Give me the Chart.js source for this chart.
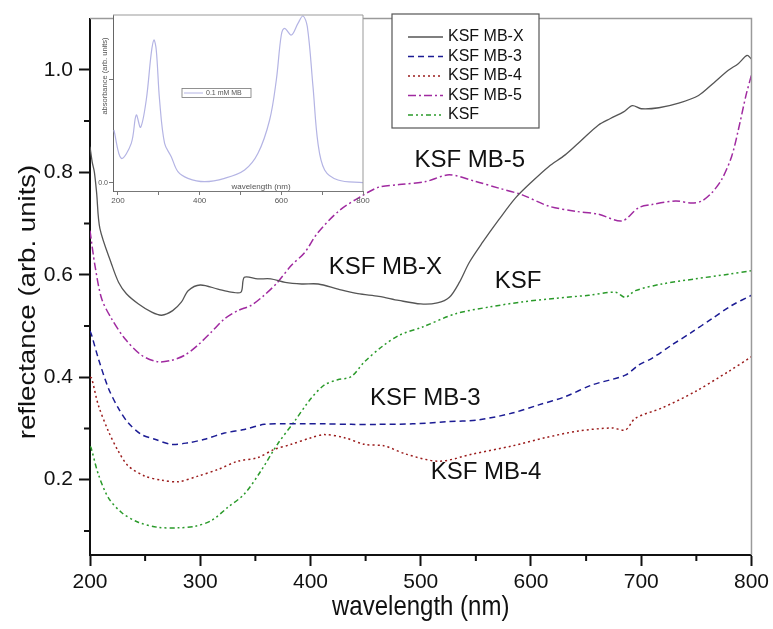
<!DOCTYPE html>
<html>
<head>
<meta charset="utf-8">
<script src="https://cdn.jsdelivr.net/npm/chart.js@4.4.1/dist/chart.umd.min.js"></script>
<style>
html, body { margin: 0; padding: 0; background: #fff; }
#wrap { position: relative; width: 773px; height: 629px; }
#mainChart { position: absolute; left: 0; top: 0; }
#insetChart { position: absolute; left: 90px; top: 0; }
</style>
</head>
<body>
<div id="wrap">
<canvas id="mainChart" width="773" height="629"></canvas>
<canvas id="insetChart" width="290" height="215"></canvas>
</div>
<script>
// ---------- DATA ----------
const mbxWl  = [200, 202, 204, 206, 209, 220, 226, 233, 244, 256, 265, 275, 283, 289, 300, 316, 328, 337, 340, 352, 364, 377, 392, 407, 425, 443, 462, 480, 500, 515, 526, 535, 544, 556, 571, 586, 601, 616, 631, 646, 661, 672, 684, 692, 700, 716, 734, 752, 766, 779, 788, 796, 800];
const mbxVal = [0.85, 0.82, 0.80, 0.76, 0.69, 0.618, 0.585, 0.563, 0.543, 0.527, 0.521, 0.530, 0.547, 0.569, 0.580, 0.572, 0.566, 0.566, 0.595, 0.592, 0.592, 0.585, 0.582, 0.582, 0.572, 0.563, 0.558, 0.550, 0.543, 0.545, 0.556, 0.585, 0.624, 0.663, 0.708, 0.750, 0.782, 0.811, 0.834, 0.863, 0.892, 0.905, 0.918, 0.930, 0.924, 0.926, 0.935, 0.950, 0.975, 0.999, 1.012, 1.028, 1.021];

const mb3Wl  = [200, 201.5, 207.5, 216.6, 225.6, 234.6, 246.7, 258.8, 273.9, 289, 304, 322, 340, 358, 376.5, 394.6, 412.7, 436.8, 462, 492.6, 522.8, 553, 583, 607, 631, 655.5, 685.6, 697.7, 709.7, 727.8, 745.9, 764, 782, 800];
const mb3Val = [0.49, 0.482, 0.437, 0.379, 0.340, 0.311, 0.288, 0.279, 0.269, 0.272, 0.279, 0.291, 0.298, 0.308, 0.309, 0.309, 0.309, 0.308, 0.308, 0.309, 0.313, 0.317, 0.330, 0.346, 0.362, 0.385, 0.404, 0.424, 0.437, 0.463, 0.488, 0.514, 0.540, 0.560];

const mb4Wl  = [200, 201.5, 207.5, 216.6, 225.6, 234.6, 249.8, 265, 280, 298, 316, 334, 352, 367, 382.5, 400.6, 412.7, 430.8, 448.9, 467, 486.5, 516.7, 546.8, 583, 613, 643, 673.5, 685.6, 694.7, 718.8, 749, 779, 800];
const mb4Val = [0.40, 0.398, 0.346, 0.295, 0.256, 0.227, 0.207, 0.199, 0.196, 0.207, 0.220, 0.236, 0.243, 0.259, 0.269, 0.282, 0.288, 0.282, 0.269, 0.266, 0.250, 0.236, 0.250, 0.266, 0.282, 0.295, 0.301, 0.297, 0.320, 0.340, 0.372, 0.411, 0.440];

const mb5Wl  = [200, 204.5, 210.6, 219.6, 231.7, 246.7, 261.8, 273.9, 286, 298, 310, 322, 334, 346, 358, 370, 382.5, 394.6, 406.6, 426, 445, 462, 480.5, 504.6, 525.8, 550, 571, 592, 616, 640, 661.5, 682.6, 697.7, 709.7, 731, 746, 755, 764, 773, 782, 788, 795, 800];
const mb5Val = [0.686, 0.618, 0.553, 0.514, 0.475, 0.443, 0.430, 0.433, 0.443, 0.463, 0.488, 0.514, 0.530, 0.540, 0.560, 0.585, 0.618, 0.643, 0.682, 0.725, 0.752, 0.771, 0.776, 0.782, 0.795, 0.782, 0.769, 0.756, 0.734, 0.724, 0.718, 0.705, 0.731, 0.737, 0.744, 0.740, 0.744, 0.760, 0.786, 0.831, 0.882, 0.950, 0.990];

const ksfWl  = [200, 201, 207.5, 216.6, 228.6, 243.7, 261.8, 280, 295, 310, 325, 340, 355, 370, 385.5, 400.6, 412.7, 424.7, 436.8, 448.9, 465, 480.5, 501.6, 531.8, 562, 592, 622, 652.5, 676.6, 685.6, 694.7, 718.8, 749, 779, 800];
const ksfVal = [0.265, 0.262, 0.211, 0.165, 0.136, 0.117, 0.107, 0.106, 0.109, 0.120, 0.146, 0.172, 0.217, 0.269, 0.314, 0.359, 0.385, 0.395, 0.401, 0.430, 0.460, 0.482, 0.498, 0.524, 0.537, 0.547, 0.554, 0.560, 0.566, 0.556, 0.569, 0.582, 0.592, 0.601, 0.608];

// inset: 0.1 mM MB absorbance
const mbAbsWl  = [190.2, 208.2, 232.7, 244.9, 255.5, 269.4, 281.6, 288.2, 293.9, 302, 314.3, 330.6, 346.9, 371.4, 412.2, 461.2, 510.2, 542.9, 571.4, 587.8, 600, 608.2, 624.5, 640.8, 653.1, 663.7, 677.6, 689.8, 706.1, 738.8, 800];
const mbAbsVal = [0.316, 0.146, 0.236, 0.406, 0.332, 0.496, 0.776, 0.856, 0.796, 0.496, 0.236, 0.156, 0.066, 0.026, 0.006, 0.026, 0.076, 0.176, 0.376, 0.616, 0.886, 0.926, 0.886, 0.956, 1.0, 0.936, 0.576, 0.236, 0.076, 0.016, 0.0];

const seriesNames = ['KSF MB-X', 'KSF MB-3', 'KSF MB-4', 'KSF MB-5', 'KSF'];
const xMajor = [200, 300, 400, 500, 600, 700, 800];
const xMinor = [250, 350, 450, 550, 650, 750];
const yMajor = [0.2, 0.4, 0.6, 0.8, 1.0];
const yMinor = [0.1, 0.3, 0.5, 0.7, 0.9];
const insetXTicks = [200, 300, 400, 500, 600, 700, 800];

// curve labels placed in data units
const curveLabels = ['KSF MB-5', 'KSF MB-X', 'KSF', 'KSF MB-3', 'KSF MB-4'];
const curveLabelWl = [544.5, 467.9, 588.2, 504.1, 559.3];
const curveLabelVal = [0.824, 0.614, 0.587, 0.358, 0.215];

const FONT = "'Liberation Sans', Arial, Helvetica, sans-serif";

function pts(xs, ys) {
  return xs.map((x, i) => ({ x: x, y: ys[i] }));
}

const styles = [
  { color: '#555555', dash: [], width: 1.3 },
  { color: '#1c1c94', dash: [6, 4], width: 1.5 },
  { color: '#9b1c1c', dash: [2, 3], width: 1.5 },
  { color: '#a02aa0', dash: [8, 3, 2, 3], width: 1.5 },
  { color: '#2a9a2a', dash: [5, 3, 2, 3, 2, 3], width: 1.5 }
];
const allWl = [mbxWl, mb3Wl, mb4Wl, mb5Wl, ksfWl];
const allVal = [mbxVal, mb3Val, mb4Val, mb5Val, ksfVal];

const datasets = seriesNames.map((name, i) => ({
  label: name,
  data: pts(allWl[i], allVal[i]),
  borderColor: styles[i].color,
  borderDash: styles[i].dash,
  borderWidth: styles[i].width,
  pointRadius: 0,
  tension: 0.3,
  fill: false
}));

// ---------- MAIN PLUGIN ----------
const mainDecor = {
  id: 'mainDecor',
  afterDatasetsDraw(chart) {
    const ctx = chart.ctx;
    const xs = chart.scales.x, ys = chart.scales.y;
    ctx.save();
    ctx.fillStyle = '#111';
    ctx.font = '24px ' + FONT;
    ctx.textAlign = 'center';
    ctx.textBaseline = 'middle';
    curveLabels.forEach((t, i) => {
      ctx.fillText(t, xs.getPixelForValue(curveLabelWl[i]), ys.getPixelForValue(curveLabelVal[i]));
    });
    ctx.restore();
  },
  afterDraw(chart) {
    const ctx = chart.ctx;
    const a = chart.chartArea;
    const xs = chart.scales.x, ys = chart.scales.y;
    ctx.save();
    // top and right frame
    ctx.strokeStyle = '#9a9a9a';
    ctx.lineWidth = 1.5;
    ctx.beginPath();
    ctx.moveTo(a.left, a.top);
    ctx.lineTo(a.right, a.top);
    ctx.lineTo(a.right, a.bottom);
    ctx.stroke();
    // minor ticks
    ctx.strokeStyle = '#111';
    ctx.lineWidth = 2;
    ctx.beginPath();
    xMinor.forEach(v => {
      const px = xs.getPixelForValue(v);
      ctx.moveTo(px, a.bottom);
      ctx.lineTo(px, a.bottom + 6);
    });
    yMinor.forEach(v => {
      const py = ys.getPixelForValue(v);
      ctx.moveTo(a.left, py);
      ctx.lineTo(a.left - 6, py);
    });
    ctx.stroke();
    // axis titles
    ctx.fillStyle = '#111';
    ctx.font = '24px ' + FONT;
    ctx.textAlign = 'center';
    ctx.textBaseline = 'middle';
    ctx.save();
    ctx.translate((a.left + a.right) / 2, 608);
    ctx.scale(1, 1.12);
    ctx.fillText('wavelength (nm)', 0, 0);
    ctx.restore();
    ctx.translate(28, 302);
    ctx.rotate(-Math.PI / 2);
    ctx.scale(1.15, 1);
    ctx.fillText('reflectance (arb. units)', 0, 0);
    ctx.restore();

    // legend box
    ctx.save();
    const bx = 392, by = 14, bw = 147, bh = 114;
    ctx.fillStyle = '#fff';
    ctx.fillRect(bx, by, bw, bh);
    ctx.strokeStyle = '#555';
    ctx.lineWidth = 1.2;
    ctx.strokeRect(bx, by, bw, bh);
    ctx.font = '16px ' + FONT;
    ctx.textAlign = 'left';
    ctx.textBaseline = 'middle';
    chart.data.datasets.forEach((ds, i) => {
      const yy = 37 + i * 19.5;
      ctx.strokeStyle = ds.borderColor;
      ctx.lineWidth = ds.borderWidth;
      ctx.setLineDash(ds.borderDash);
      ctx.beginPath();
      ctx.moveTo(408, yy);
      ctx.lineTo(443, yy);
      ctx.stroke();
      ctx.setLineDash([]);
      ctx.fillStyle = '#111';
      ctx.fillText(ds.label, 448, yy);
    });
    ctx.restore();
  }
};

new Chart(document.getElementById('mainChart'), {
  type: 'line',
  data: { datasets: datasets },
  options: {
    responsive: false,
    animation: false,
    devicePixelRatio: 1,
    layout: { padding: { top: 14, right: 20, left: 0, bottom: 0 } },
    plugins: { legend: { display: false }, tooltip: { enabled: false } },
    scales: {
      x: {
        type: 'linear', min: 200, max: 800,
        afterBuildTicks: s => { s.ticks = xMajor.map(v => ({ value: v })); },
        afterFit: s => { s.height = 74; },
        ticks: { font: { family: FONT, size: 21 }, color: '#111', padding: 4, maxRotation: 0, autoSkip: false, callback: v => String(v) },
        grid: { drawOnChartArea: false, drawTicks: true, tickLength: 11, tickWidth: 2, tickColor: '#111' },
        border: { display: true, color: '#111', width: 2 }
      },
      y: {
        type: 'linear', min: 0.053, max: 1.1,
        afterBuildTicks: s => { s.ticks = yMajor.map(v => ({ value: v })); },
        afterFit: s => { s.width = 90; },
        ticks: { font: { family: FONT, size: 21 }, color: '#111', padding: 6, autoSkip: false, callback: v => v.toFixed(1) },
        grid: { drawOnChartArea: false, drawTicks: true, tickLength: 11, tickWidth: 2, tickColor: '#111' },
        border: { display: true, color: '#111', width: 2 }
      }
    }
  },
  plugins: [mainDecor]
});

// ---------- INSET ----------
const insetDecor = {
  id: 'insetDecor',
  beforeDraw(chart) {
    const a = chart.chartArea;
    chart.ctx.save();
    chart.ctx.fillStyle = '#fff';
    chart.ctx.fillRect(a.left, a.top, a.right - a.left, a.bottom - a.top);
    chart.ctx.restore();
  },
  afterDraw(chart) {
    const ctx = chart.ctx;
    const a = chart.chartArea;
    ctx.save();
    ctx.strokeStyle = '#999';
    ctx.lineWidth = 1;
    ctx.beginPath();
    ctx.moveTo(a.left, a.top);
    ctx.lineTo(a.right, a.top);
    ctx.lineTo(a.right, a.bottom);
    ctx.stroke();
    ctx.fillStyle = '#555';
    ctx.textAlign = 'center';
    ctx.textBaseline = 'middle';
    ctx.font = '8px ' + FONT;
    ctx.fillText('wavelength (nm)', 171, 187);
    ctx.save();
    ctx.translate(15, 76);
    ctx.rotate(-Math.PI / 2);
    ctx.font = '7.5px ' + FONT;
    ctx.fillText('absorbance (arb. units)', 0, 0);
    ctx.restore();
    // inset legend
    ctx.strokeStyle = '#777';
    ctx.lineWidth = 0.8;
    ctx.strokeRect(92, 88.5, 69, 9);
    ctx.strokeStyle = chart.data.datasets[0].borderColor;
    ctx.lineWidth = 1;
    ctx.beginPath();
    ctx.moveTo(94, 93);
    ctx.lineTo(113, 93);
    ctx.stroke();
    ctx.fillStyle = '#555';
    ctx.textAlign = 'left';
    ctx.font = '7px ' + FONT;
    ctx.fillText(chart.data.datasets[0].label, 116, 93);
    ctx.restore();
  }
};

new Chart(document.getElementById('insetChart'), {
  type: 'line',
  data: {
    datasets: [{
      label: '0.1 mM MB',
      data: pts(mbAbsWl, mbAbsVal),
      borderColor: '#b4b4e4',
      borderWidth: 1.2,
      pointRadius: 0,
      tension: 0.35,
      fill: false
    }]
  },
  options: {
    responsive: false,
    animation: false,
    devicePixelRatio: 1,
    layout: { padding: { top: 15, right: 17, left: 0, bottom: 0 } },
    plugins: { legend: { display: false }, tooltip: { enabled: false } },
    scales: {
      x: {
        type: 'linear', min: 188, max: 800,
        afterBuildTicks: s => { s.ticks = insetXTicks.map(v => ({ value: v })); },
        afterFit: s => { s.height = 24; },
        ticks: { font: { family: FONT, size: 8 }, color: '#555', padding: 1, maxRotation: 0, autoSkip: false, callback: v => (v % 200 === 0 ? String(v) : '') },
        grid: { drawOnChartArea: false, drawTicks: true, tickLength: 4, tickColor: '#777' },
        border: { display: true, color: '#777', width: 1 }
      },
      y: {
        type: 'linear', min: -0.05, max: 1.006,
        afterBuildTicks: s => { s.ticks = [{ value: 0 }, { value: 0.62 }]; },
        afterFit: s => { s.width = 23; },
        ticks: { font: { family: FONT, size: 7 }, color: '#555', padding: 1, autoSkip: false, callback: v => (v === 0 ? '0.0' : '') },
        grid: { drawOnChartArea: false, drawTicks: true, tickLength: 4, tickColor: '#777' },
        border: { display: true, color: '#666', width: 1 }
      }
    }
  },
  plugins: [insetDecor]
});
</script>
</body>
</html>
